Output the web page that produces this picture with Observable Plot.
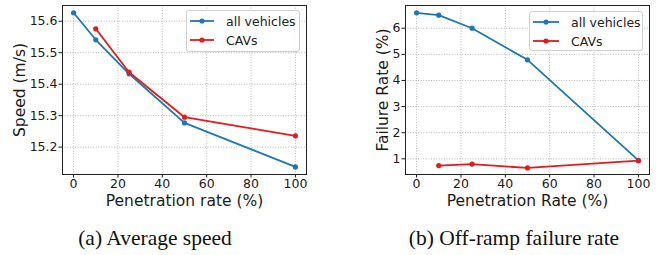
<!DOCTYPE html>
<html>
<head>
<meta charset="utf-8">
<script src="https://cdn.jsdelivr.net/npm/d3@7"></script>
<script src="https://cdn.jsdelivr.net/npm/@observablehq/plot@0.6"></script>
<style>
  body { margin: 0; background: white; }
  #wrap { position: relative; width: 662px; height: 255px; background: white; overflow: hidden; }
  .panel { position: absolute; top: 0; }
  .panel svg { display: block; }
  [aria-label="x-axis label"], [aria-label="y-axis label"] { font-size: 15.5px; }
  .legend { position: absolute; box-sizing: border-box; border: 1px solid #d0d0d0; border-radius: 3px;
            background: rgba(255,255,255,0.85); font-family: "DejaVu Sans", sans-serif; font-size: 12.5px; color: #222; }
  .legend .row { position: absolute; left: 0; height: 16px; display: flex; align-items: center; }
  .legend .row span { margin-left: 12px; white-space: nowrap; }
  .caption { position: absolute; font-family: "Liberation Serif", "Times New Roman", serif; font-size: 21.5px;
             color: #111; white-space: nowrap; transform: translateX(-50%); }
</style>
</head>
<body>
<div id="wrap">
  <div id="pa" class="panel" style="left:0"></div>
  <div id="pb" class="panel" style="left:331px"></div>
</div>
<script>
// ---- data ----
const penetration = [0, 10, 25, 50, 100];
const seriesNames = ["all vehicles", "CAVs"];
const seriesColors = ["#1f77b4", "#e41a1c"];
const speedAll = [15.627, 15.541, 15.433, 15.277, 15.137];
const speedCAV = [null, 15.576, 15.438, 15.295, 15.236];
const failAll = [6.59, 6.50, 6.00, 4.79, 0.94];
const failCAV = [null, 0.74, 0.80, 0.65, 0.93];
const xTicks = [0, 20, 40, 60, 80, 100];
const speedTicks = [15.2, 15.3, 15.4, 15.5, 15.6];
const failTicks = [1, 2, 3, 4, 5, 6];
const captions = ["(a) Average speed", "(b) Off-ramp failure rate"];

function rows(a, b) {
  const out = [];
  [a, b].forEach((vals, i) => vals.forEach((v, j) => {
    if (v != null) out.push({x: penetration[j], y: v, series: seriesNames[i]});
  }));
  return out;
}

function panel({data, yDomain, yTicks, yFormat, xLabel, yLabel, ml, mr, yLabelOffset}) {
  return Plot.plot({
    width: 331, height: 208,
    marginLeft: ml, marginRight: mr, marginTop: 5, marginBottom: 34,
    style: {fontFamily: "DejaVu Sans, sans-serif", fontSize: "12.5px", color: "#1a1a1a", background: "white", overflow: "visible"},
    x: {domain: [-5, 105]},
    y: {domain: yDomain},
    color: {domain: seriesNames, range: seriesColors},
    marks: [
      Plot.gridX(xTicks, {stroke: "#999", strokeOpacity: 0.9, strokeWidth: 0.8, strokeDasharray: "1,1.6"}),
      Plot.gridY(yTicks, {stroke: "#999", strokeOpacity: 0.9, strokeWidth: 0.8, strokeDasharray: "1,1.6"}),
      Plot.line(data, {x: "x", y: "y", z: "series", stroke: "series", strokeWidth: 1.8}),
      Plot.dot(data, {x: "x", y: "y", fill: "series", r: 2.6}),
      Plot.frame({stroke: "#222", strokeWidth: 1}),
      Plot.axisX(xTicks, {tickSize: 3.5, tickPadding: 1.5, label: xLabel, labelAnchor: "center", labelArrow: "none", labelOffset: 31}),
      Plot.axisY(yTicks, {tickSize: 3.5, tickPadding: 1.5, tickFormat: yFormat, label: yLabel, labelAnchor: "center", labelArrow: "none", labelOffset: yLabelOffset})
    ]
  });
}

document.getElementById("pa").append(panel({
  data: rows(speedAll, speedCAV), yDomain: [15.113, 15.65], yTicks: speedTicks, yFormat: d3.format(".1f"),
  xLabel: "Penetration rate (%)", yLabel: "Speed (m/s)", ml: 62, mr: 25, yLabelOffset: 49
}));
document.getElementById("pb").append(panel({
  data: rows(failAll, failCAV), yDomain: [0.40, 6.87], yTicks: failTicks, yFormat: d3.format("d"),
  xLabel: "Penetration Rate (%)", yLabel: "Failure Rate (%)", ml: 74, mr: 13, yLabelOffset: 29
}));

// legends
const wrap = document.getElementById("wrap");
function legend(left, top, width, height, rowYs, lineW) {
  const box = document.createElement("div");
  box.className = "legend";
  Object.assign(box.style, {left: left + "px", top: top + "px", width: width + "px", height: height + "px"});
  seriesNames.forEach((name, i) => {
    const row = document.createElement("div");
    row.className = "row";
    row.style.top = (rowYs[i] - 8) + "px";
    row.style.left = "3px";
    const ns = "http://www.w3.org/2000/svg";
    const svg = document.createElementNS(ns, "svg");
    svg.setAttribute("width", lineW); svg.setAttribute("height", 16);
    const ln = document.createElementNS(ns, "line");
    ln.setAttribute("x1", 0); ln.setAttribute("x2", lineW); ln.setAttribute("y1", 8); ln.setAttribute("y2", 8);
    ln.setAttribute("stroke", seriesColors[i]); ln.setAttribute("stroke-width", 1.8);
    const c = document.createElementNS(ns, "circle");
    c.setAttribute("cx", lineW / 2); c.setAttribute("cy", 8); c.setAttribute("r", 2.6); c.setAttribute("fill", seriesColors[i]);
    svg.append(ln, c);
    const sp = document.createElement("span");
    sp.textContent = name;
    row.append(svg, sp);
    box.append(row);
  });
  wrap.append(box);
}
legend(186, 10, 114, 42, [10, 29], 24);
legend(529, 11, 114, 40, [10, 29], 26);

// captions
[[155, captions[0]], [514, captions[1]]].forEach(([cx, t]) => {
  const d = document.createElement("div");
  d.className = "caption";
  d.style.left = cx + "px";
  d.style.top = "226px";
  d.textContent = t;
  wrap.append(d);
});
</script>
</body>
</html>
